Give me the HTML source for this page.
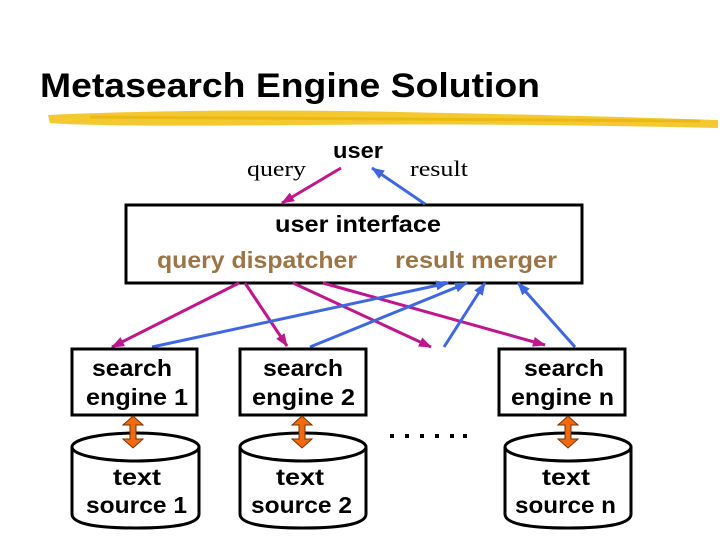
<!DOCTYPE html>
<html><head><meta charset="utf-8"><style>
html,body{margin:0;padding:0;background:#fff;}
svg{display:block;font-family:"Liberation Sans",Arial,sans-serif;}
</style></head><body>
<svg width="720" height="540" viewBox="0 0 720 540" xmlns="http://www.w3.org/2000/svg">
<defs>
<marker id="mm" markerWidth="13" markerHeight="10" refX="12" refY="5" orient="auto" markerUnits="userSpaceOnUse"><path d="M0,0 L13,5 L0,10 z" fill="#c0168c"/></marker>
<marker id="mb" markerWidth="13" markerHeight="10" refX="12" refY="5" orient="auto" markerUnits="userSpaceOnUse"><path d="M0,0 L13,5 L0,10 z" fill="#3f67e0"/></marker>
</defs>
<text x="40" y="97" font-size="34" font-weight="bold" textLength="500" lengthAdjust="spacingAndGlyphs">Metasearch Engine Solution</text>
<path d="M48,115 Q200,108 400,112 T718,120 L718,128 Q500,123 300,125 T50,123 z" fill="#f2c21a" opacity="0.9"/>
<path d="M90,117 L700,121" stroke="#e8b000" stroke-width="3" opacity="0.6"/>
<text x="333" y="158" font-size="22" font-weight="bold" textLength="50" lengthAdjust="spacingAndGlyphs">user</text>
<text x="247" y="176" font-size="22" font-family="Liberation Serif,serif" textLength="59" lengthAdjust="spacingAndGlyphs">query</text>
<text x="410" y="176" font-size="22" font-family="Liberation Serif,serif" textLength="58" lengthAdjust="spacingAndGlyphs">result</text>
<rect x="126" y="205" width="456" height="78" fill="#fff" stroke="#000" stroke-width="3"/>
<text x="275" y="232" font-size="23" font-weight="bold" textLength="166" lengthAdjust="spacingAndGlyphs">user interface</text>
<text x="157" y="268" font-size="23" font-weight="bold" fill="#9b7447" textLength="200" lengthAdjust="spacingAndGlyphs">query dispatcher</text>
<text x="395" y="268" font-size="23" font-weight="bold" fill="#9b7447" textLength="162" lengthAdjust="spacingAndGlyphs">result merger</text>
<g stroke="#c0168c" stroke-width="3" marker-end="url(#mm)">
<line x1="341" y1="168" x2="282" y2="203"/>
<line x1="239" y1="283" x2="112" y2="347"/>
<line x1="245" y1="283" x2="287" y2="346"/>
<line x1="293" y1="283" x2="431" y2="347"/>
<line x1="323" y1="283" x2="545" y2="345"/>
</g>
<g stroke="#3f67e0" stroke-width="3" marker-end="url(#mb)">
<line x1="425" y1="204" x2="372" y2="168"/>
<line x1="152" y1="347" x2="448" y2="283"/>
<line x1="310" y1="347" x2="467" y2="283"/>
<line x1="444" y1="347" x2="485" y2="283"/>
<line x1="575" y1="347" x2="518" y2="283"/>
</g>
<g fill="#fff" stroke="#000" stroke-width="3">
<rect x="72" y="349" width="125" height="66"/>
<rect x="240" y="349" width="126" height="66"/>
<rect x="499" y="349" width="126" height="66"/>
</g>
<g font-size="23" font-weight="bold">
<text x="92" y="376" textLength="80" lengthAdjust="spacingAndGlyphs">search</text><text x="86" y="405" textLength="102" lengthAdjust="spacingAndGlyphs">engine 1</text>
<text x="263" y="376" textLength="80" lengthAdjust="spacingAndGlyphs">search</text><text x="252" y="405" textLength="103" lengthAdjust="spacingAndGlyphs">engine 2</text>
<text x="524" y="376" textLength="80" lengthAdjust="spacingAndGlyphs">search</text><text x="511" y="405" textLength="103" lengthAdjust="spacingAndGlyphs">engine n</text>
</g>
<g fill="#fff" stroke="#000" stroke-width="3">
<path d="M72,447 L72,514 Q72,528 136,528 Q199,528 199,514 L199,447"/>
<ellipse cx="135.5" cy="447" rx="63.5" ry="14"/>
<path d="M240,447 L240,514 Q240,528 303,528 Q366,528 366,514 L366,447"/>
<ellipse cx="303" cy="447" rx="63" ry="14"/>
<path d="M505,447 L505,514 Q505,528 568,528 Q631,528 631,514 L631,447"/>
<ellipse cx="568" cy="447" rx="63" ry="14"/>
</g>
<g font-size="23" font-weight="bold">
<text x="113" y="485" textLength="48" lengthAdjust="spacingAndGlyphs">text</text><text x="86" y="513" textLength="101" lengthAdjust="spacingAndGlyphs">source 1</text>
<text x="276" y="485" textLength="48" lengthAdjust="spacingAndGlyphs">text</text><text x="251" y="513" textLength="101" lengthAdjust="spacingAndGlyphs">source 2</text>
<text x="542" y="485" textLength="48" lengthAdjust="spacingAndGlyphs">text</text><text x="515" y="513" textLength="101" lengthAdjust="spacingAndGlyphs">source n</text>
</g>
<g fill="#f26a10" stroke="#7a3000" stroke-width="1">
<path d="M133,416 l-10,9 h7 v14 h-7 l10,9 l10,-9 h-7 v-14 h7 z"/>
<path d="M302,416 l-10,9 h7 v14 h-7 l10,9 l10,-9 h-7 v-14 h7 z"/>
<path d="M568,416 l-10,9 h7 v14 h-7 l10,9 l10,-9 h-7 v-14 h7 z"/>
</g>
<g fill="#000">
<rect x="390" y="434" width="4" height="4"/><rect x="405" y="434" width="4" height="4"/><rect x="420" y="434" width="4" height="4"/><rect x="435" y="434" width="4" height="4"/><rect x="450" y="434" width="4" height="4"/><rect x="463" y="434" width="4" height="4"/>
</g>
</svg>
</body></html>
